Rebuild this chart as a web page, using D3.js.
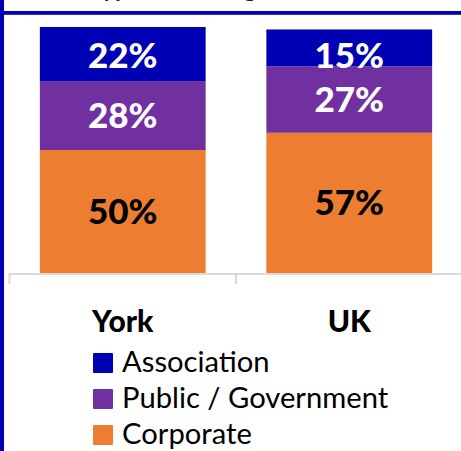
<!DOCTYPE html>
<html>
<head>
<meta charset="utf-8">
<script src="https://cdn.jsdelivr.net/npm/d3@7"></script>
<style>
  html, body { margin: 0; padding: 0; background: #fff; }
  svg { display: block; }
  text { font-family: Lato, "Open Sans", sans-serif; }
</style>
</head>
<body>
<div id="chart"></div>
<script>
// ---- data ----
const categories = ["York", "UK"];
const seriesNames = ["Corporate", "Public / Government", "Association"]; // stacking order bottom -> top
const corporate = [50, 57];
const publicGov = [28, 27];
const association = [22, 15];
const legendOrder = ["Association", "Public / Government", "Corporate"];
const titleText = "Type of funding";

// ---- styles ----
const W = 461, H = 451;
const colors = { "Association": "#0000B4", "Public / Government": "#7030A0", "Corporate": "#ED7D31" };
const labelColors = { "Association": "#ffffff", "Public / Government": "#ffffff", "Corporate": "#000000" };

const rows = categories.map((c, i) => ({
  category: c,
  "Corporate": corporate[i],
  "Public / Government": publicGov[i],
  "Association": association[i]
}));

const svg = d3.select("#chart").append("svg").attr("width", W).attr("height", H);

// frame borders
svg.append("rect").attr("x", 0).attr("y", 11).attr("width", W).attr("height", 3.8).attr("fill", "#0000B4");
svg.append("rect").attr("x", 0).attr("y", 0).attr("width", 4).attr("height", H).attr("fill", "#0000B4");

// title (mostly above the visible area, as in the reference)
svg.append("text").attr("x", 90).attr("y", -3)
  .attr("font-size", 24).attr("font-weight", "bold").attr("fill", "#222")
  .text(titleText);

const x = d3.scaleBand().domain(categories).range([9.5, 462.5]).paddingInner(0.268).paddingOuter(0.134);
const y = d3.scaleLinear().domain([0, 100]).range([273, 27]);

// axis line + ticks
const axisG = svg.append("g");
axisG.append("line").attr("x1", x.range()[0]).attr("x2", x.range()[1])
  .attr("y1", y(0) + 1).attr("y2", y(0) + 1).attr("stroke", "#d9d9d9").attr("stroke-width", 2);
const tickXs = categories.map(c => x(c) - x.step() * x.paddingInner() / 2).concat([x.range()[1]]);
axisG.selectAll("line.tick").data(tickXs).join("line").attr("class", "tick")
  .attr("x1", d => d).attr("x2", d => d).attr("y1", y(0)).attr("y2", y(0) + 11)
  .attr("stroke", "#d9d9d9").attr("stroke-width", 2);

const stack = d3.stack().keys(seriesNames);
const stacked = stack(rows);

const groups = svg.selectAll("g.series").data(stacked).join("g").attr("class", "series")
  .attr("fill", d => colors[d.key]);
groups.selectAll("rect").data(d => d).join("rect")
  .attr("x", d => x(d.data.category))
  .attr("width", x.bandwidth())
  .attr("y", d => y(d[1]))
  .attr("height", d => y(d[0]) - y(d[1]));

// value labels
const minCenter = y(100) + 28.5;
stacked.forEach(s => {
  svg.append("g").selectAll("text").data(s).join("text")
    .attr("x", d => x(d.data.category) + x.bandwidth() / 2)
    .attr("y", d => Math.max((y(d[0]) + y(d[1])) / 2, minCenter))
    .attr("dy", "0.36em")
    .attr("text-anchor", "middle")
    .attr("font-size", 35).attr("font-weight", 900)
    .attr("fill", labelColors[s.key])
    .text(d => (d[1] - d[0]) + "%");
});

// category labels
svg.append("g").selectAll("text").data(categories).join("text")
  .attr("x", d => x(d) + x.bandwidth() / 2)
  .attr("y", 331.5)
  .attr("text-anchor", "middle")
  .attr("font-size", 30).attr("font-weight", 900).attr("fill", "#000")
  .text(d => d);

// legend
const lg = svg.append("g").attr("transform", "translate(93,353)");
const li = lg.selectAll("g").data(legendOrder).join("g")
  .attr("transform", (d, i) => `translate(0,${i * 36})`);
li.append("rect").attr("width", 20).attr("height", 20).attr("rx", 1).attr("fill", d => colors[d]);
li.append("text").attr("x", 29).attr("y", 19.3).attr("font-size", 29.2).attr("fill", "#000").text(d => d);
</script>
</body>
</html>
